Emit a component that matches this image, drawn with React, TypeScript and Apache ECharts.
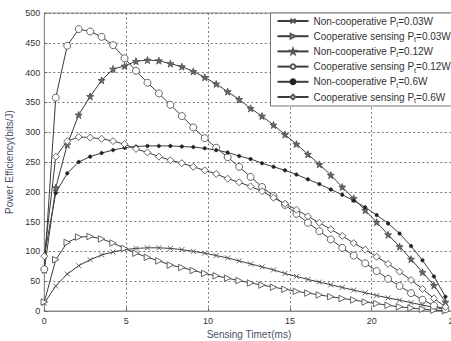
import React, { useEffect, useRef } from "react";
import * as echarts from "echarts";

const times = [0, 0.7, 1.4, 2.1, 2.8, 3.5, 4.2, 4.9, 5.6, 6.3, 7.0, 7.7, 8.4, 9.1, 9.8, 10.5, 11.2, 11.9, 12.6, 13.3, 14.0, 14.7, 15.4, 16.1, 16.8, 17.5, 18.2, 18.9, 19.6, 20.3, 21.0, 21.7, 22.4, 23.1, 23.8, 24.5];

const nonCoop003 = [13, 42, 62, 76, 86, 94, 99, 103, 105, 106, 106, 105, 103, 100, 97, 93, 89, 84, 79, 74, 69, 63, 58, 53, 48.5, 44, 39.5, 35, 30.5, 26, 22, 18, 14, 10, 6, 3];
const coop003 = [15, 86, 115, 124, 125, 121, 114, 105, 97, 90, 84, 77, 73, 68, 63, 59, 55, 51, 47, 43.5, 40, 36.5, 33, 30, 27, 24, 21, 18.5, 15, 12.5, 9.5, 7, 5, 3, 1.5, 0.5];
const nonCoop012 = [69, 207, 279, 329, 360, 387, 406, 411, 419, 421, 420, 415, 410, 402, 392, 381, 368, 355, 340, 327, 312, 296, 280, 263, 246, 228, 208, 189, 169, 149, 128, 108, 87, 65, 43, 15];
const coop012 = [70, 358, 445, 473, 469, 460, 446, 424, 403, 383, 365, 346, 327, 308, 290, 274, 258, 242, 225, 208, 193, 178, 163, 148, 134, 120, 106, 93, 80, 67, 54, 42, 30, 19, 9, 3];
const nonCoop06 = [92, 198, 231, 250, 259, 265, 270, 274, 276, 277, 277, 277, 276, 275, 273, 270, 266, 260, 255, 248, 242, 236, 229, 221, 213, 204, 195, 185, 174, 161, 147, 130, 109, 85, 58, 24];
const coop06 = [92, 259, 285, 292, 291, 289, 285, 280, 272, 266, 259, 253, 248, 242, 236, 230, 222, 216, 209, 201, 190, 180, 170, 159, 148, 137, 126, 114, 103, 91, 79, 66, 52, 37, 21, 7];

const seriesNames = [
  "Non-cooperative Pt=0.03W",
  "Cooperative sensing Pt=0.03W",
  "Non-cooperative Pt=0.12W",
  "Cooperative sensing Pt=0.12W",
  "Non-cooperative Pt=0.6W",
  "Cooperative sensing Pt=0.6W",
];

const xTicks = [0, 5, 10, 15, 20, 25];
const yTicks = [0, 50, 100, 150, 200, 250, 300, 350, 400, 450, 500];

const LINE = "#3c3c3c";
const MARK = "#555555";

function pairs(v: number[]) {
  return times.map((t, i) => [t, v[i]]);
}

export default function App() {
  const ref = useRef<HTMLDivElement>(null);
  useEffect(() => {
    if (!ref.current) return;
    const chart = echarts.init(ref.current, null, { renderer: "svg" });
    const mk = (
      name: string,
      data: number[],
      symbol: string,
      size: number,
      fill: string,
      extra: any = {}
    ) => ({
      type: "line",
      name,
      data: pairs(data),
      symbol,
      symbolSize: size,
      showAllSymbol: true,
      lineStyle: { color: LINE, width: 1 },
      itemStyle: { color: fill, borderColor: MARK, borderWidth: 0.9 },
      emphasis: { disabled: true },
      ...extra,
    });
    const option: any = {
      animation: false,
      backgroundColor: "#ffffff",
      grid: {
        left: 44.3,
        top: 13,
        right: -2.6,
        bottom: 30,
        show: true,
        borderColor: "#8a8a8a",
        borderWidth: 1,
        containLabel: false,
        outerBoundsMode: "none",
      },
      legend: {
        orient: "vertical",
        left: 270.5,
        top: 13,
        padding: [3, 4, 2, 6],
        itemGap: 3.2,
        itemWidth: 31,
        itemHeight: 6,
        backgroundColor: "#ffffff",
        borderColor: "#777",
        borderWidth: 1,
        borderRadius: 0,
        data: seriesNames,
        formatter: (name: string) => {
          const idx = name.indexOf("Pt=");
          const pre = name.slice(0, idx + 1);
          const post = name.slice(idx + 2);
          return "{a|" + pre + "}{s|t}{a|" + post + "}";
        },
        textStyle: {
          rich: {
            a: { fontSize: 10, fontFamily: "Liberation Sans", color: "#333", lineHeight: 14 },
            s: { fontSize: 7, fontFamily: "Liberation Sans", color: "#333", lineHeight: 14, verticalAlign: "bottom", padding: [5, 0, 0, 0] },
          },
        },
      },
      xAxis: {
        type: "value",
        min: 0,
        max: 25,
        interval: 5,
        name: "Sensing Timeτ(ms)",
        nameLocation: "middle",
        nameGap: 17,
        nameTextStyle: { fontSize: 10, fontFamily: "Liberation Sans", color: "#4a5266" },
        axisLine: { show: true, lineStyle: { color: "#8a8a8a" } },
        axisTick: { show: true, inside: true, length: 3, lineStyle: { color: "#666" } },
        axisLabel: { fontSize: 9, fontFamily: "Liberation Sans", color: "#333", margin: 5, showMaxLabel: true },
        splitLine: { show: true, lineStyle: { color: "#555", type: [2, 2.5], width: 0.8 } },
        data: xTicks,
      },
      yAxis: {
        type: "value",
        min: 0,
        max: 500,
        interval: 50,
        name: "Power Efficiency(bits/J)",
        nameLocation: "middle",
        nameGap: 24,
        nameRotate: 90,
        nameTextStyle: { fontSize: 10, fontFamily: "Liberation Sans", color: "#4a5266" },
        axisLine: { show: true, lineStyle: { color: "#8a8a8a" } },
        axisTick: { show: true, inside: true, length: 3, lineStyle: { color: "#666" } },
        axisLabel: { fontSize: 9, fontFamily: "Liberation Sans", color: "#333", margin: 4 },
        splitLine: { show: true, lineStyle: { color: "#555", type: [2, 2.5], width: 0.8 } },
      },
      series: [
        mk(seriesNames[0], nonCoop003, "path://M0,0L10,10M10,0L0,10", 5, "#ffffff"),
        mk(seriesNames[1], coop003, "triangle", 6.5, "#ffffff", { symbolRotate: -90 }),
        mk(seriesNames[2], nonCoop012, "path://M5,0L6.2,3.6L10,3.6L6.9,5.9L8.1,9.5L5,7.3L1.9,9.5L3.1,5.9L0,3.6L3.8,3.6Z", 7, "#666666"),
        mk(seriesNames[3], coop012, "circle", 7, "#ffffff"),
        mk(seriesNames[4], nonCoop06, "circle", 3.5, "#222222", { itemStyle: { color: "#222", borderColor: "#222", borderWidth: 0.5 } }),
        mk(seriesNames[5], coop06, "diamond", 7, "#ffffff"),
      ],
    };
    chart.setOption(option);
    return () => chart.dispose();
  }, []);
  return (
    <div
      ref={ref}
      style={{ position: "fixed", left: 0, top: 0, width: 451, height: 341, background: "#fff" }}
    />
  );
}
